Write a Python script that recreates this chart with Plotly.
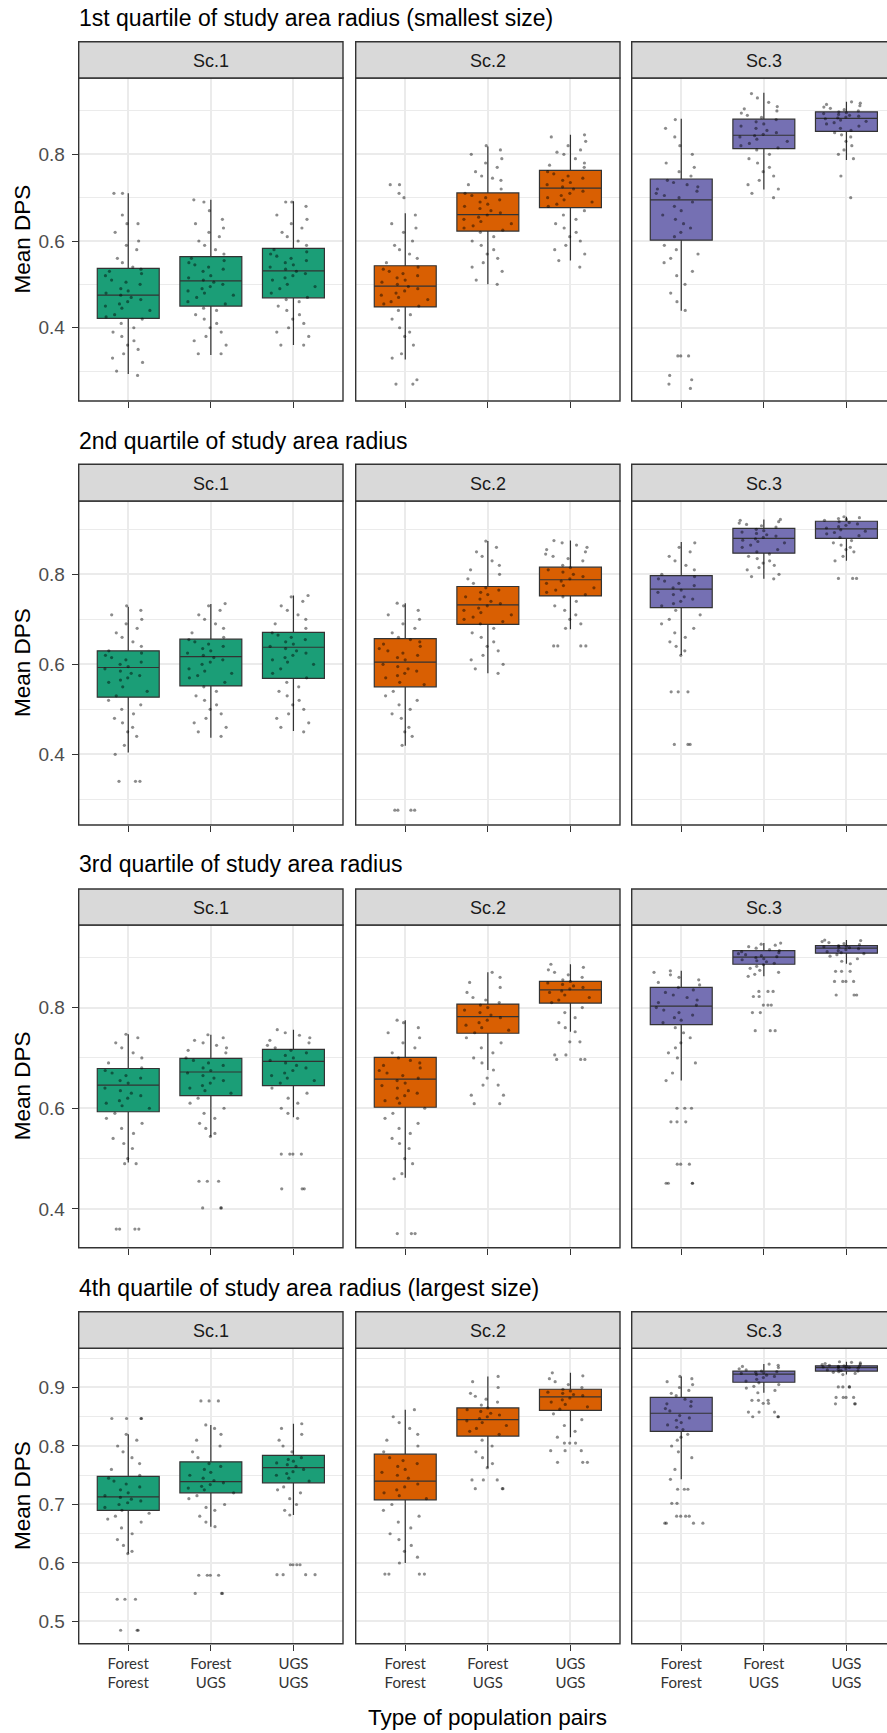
import plotly.graph_objects as go

W, H = 887, 1733

ROW_TITLES = ["1st quartile of study area radius (smallest size)",
              "2nd quartile of study area radius",
              "3rd quartile of study area radius",
              "4th quartile of study area radius (largest size)"]
SCENARIOS = ["Sc.1", "Sc.2", "Sc.3"]
PAIRS = ["Forest<br>Forest", "Forest<br>UGS", "UGS<br>UGS"]
Y_LABEL = "Mean DPS"
X_LABEL = "Type of population pairs"
COLORS = ["#1B9E77", "#D95F02", "#7570B3"]

# Box statistics, order: Sc.1 (FF, FU, UU), Sc.2 (FF, FU, UU), Sc.3 (FF, FU, UU)
low_r1 = [0.293, 0.337, 0.360, 0.327, 0.500, 0.555, 0.439, 0.719, 0.787]
q1_r1 = [0.4215, 0.450, 0.469, 0.448, 0.623, 0.677, 0.602, 0.813, 0.853]
med_r1 = [0.475, 0.508, 0.531, 0.496, 0.661, 0.722, 0.695, 0.844, 0.883]
q3_r1 = [0.537, 0.564, 0.583, 0.543, 0.711, 0.763, 0.743, 0.881, 0.898]
high_r1 = [0.710, 0.695, 0.692, 0.664, 0.818, 0.845, 0.882, 0.942, 0.921]

low_r2 = [0.404, 0.437, 0.452, 0.419, 0.580, 0.678, 0.621, 0.790, 0.830]
q1_r2 = [0.527, 0.552, 0.569, 0.550, 0.689, 0.752, 0.726, 0.847, 0.880]
med_r2 = [0.593, 0.617, 0.638, 0.605, 0.732, 0.788, 0.767, 0.880, 0.901]
q3_r2 = [0.630, 0.656, 0.671, 0.657, 0.773, 0.816, 0.797, 0.902, 0.918]
high_r2 = [0.728, 0.734, 0.753, 0.736, 0.874, 0.875, 0.872, 0.922, 0.928]

low_r3 = [0.492, 0.544, 0.582, 0.462, 0.676, 0.752, 0.655, 0.862, 0.887]
q1_r3 = [0.593, 0.625, 0.645, 0.602, 0.749, 0.809, 0.766, 0.886, 0.908]
med_r3 = [0.646, 0.672, 0.693, 0.658, 0.782, 0.835, 0.803, 0.900, 0.918]
q3_r3 = [0.679, 0.699, 0.717, 0.701, 0.807, 0.852, 0.840, 0.913, 0.923]
high_r3 = [0.747, 0.746, 0.756, 0.775, 0.870, 0.886, 0.873, 0.928, 0.934]

low_r4 = [0.616, 0.662, 0.682, 0.600, 0.763, 0.815, 0.743, 0.891, 0.922]
q1_r4 = [0.690, 0.720, 0.737, 0.708, 0.817, 0.861, 0.825, 0.909, 0.928]
med_r4 = [0.713, 0.739, 0.763, 0.740, 0.845, 0.884, 0.856, 0.923, 0.934]
q3_r4 = [0.748, 0.773, 0.784, 0.786, 0.865, 0.897, 0.883, 0.928, 0.937]
high_r4 = [0.820, 0.836, 0.838, 0.862, 0.919, 0.925, 0.919, 0.940, 0.944]

# Individual Mean DPS values (jittered points)
p_r1_s1_ff = [0.29, 0.30, 0.32, 0.33, 0.34, 0.35, 0.36, 0.37, 0.38, 0.39, 0.40, 0.41, 0.42,
              0.425, 0.43, 0.44, 0.445, 0.45, 0.455, 0.46, 0.465, 0.47, 0.475,
              0.48, 0.485, 0.49, 0.50, 0.505, 0.51, 0.52, 0.525, 0.53, 0.535,
              0.54, 0.55, 0.56, 0.58, 0.59, 0.60, 0.62, 0.64, 0.64, 0.66, 0.71, 0.71]
p_r1_s1_fu = [0.34, 0.34, 0.36, 0.37, 0.38, 0.39, 0.40, 0.41, 0.42, 0.43, 0.44, 0.445,
              0.455, 0.46, 0.47, 0.475, 0.48, 0.485, 0.49, 0.495, 0.50, 0.505,
              0.51, 0.515, 0.52, 0.53, 0.535, 0.54, 0.545, 0.55, 0.555, 0.56,
              0.57, 0.58, 0.59, 0.60, 0.61, 0.62, 0.63, 0.64, 0.65, 0.67, 0.69, 0.695]
p_r1_s1_uu = [0.36, 0.36, 0.38, 0.39, 0.40, 0.41, 0.42, 0.43, 0.44, 0.45, 0.46, 0.465,
              0.47, 0.48, 0.49, 0.495, 0.50, 0.51, 0.515, 0.52, 0.525, 0.53,
              0.535, 0.54, 0.545, 0.55, 0.555, 0.56, 0.565, 0.57, 0.575, 0.58,
              0.59, 0.60, 0.61, 0.62, 0.63, 0.64, 0.65, 0.66, 0.68, 0.69, 0.69]
p_r1_s2_ff = [0.27, 0.27, 0.28, 0.33, 0.34, 0.36, 0.38, 0.39, 0.40, 0.42, 0.43, 0.44,
              0.45, 0.455, 0.46, 0.465, 0.47, 0.475, 0.48, 0.485, 0.49, 0.495,
              0.50, 0.505, 0.51, 0.515, 0.52, 0.525, 0.53, 0.535, 0.54,
              0.55, 0.56, 0.57, 0.58, 0.59, 0.60, 0.62, 0.63, 0.64, 0.66, 0.70, 0.71, 0.73, 0.73]
p_r1_s2_fu = [0.50, 0.51, 0.53, 0.54, 0.55, 0.56, 0.57, 0.58, 0.59, 0.60, 0.61, 0.62,
              0.625, 0.63, 0.635, 0.64, 0.645, 0.65, 0.655, 0.66,
              0.665, 0.67, 0.675, 0.68, 0.685, 0.69, 0.695, 0.70, 0.705, 0.71,
              0.72, 0.73, 0.74, 0.745, 0.75, 0.76, 0.77, 0.78, 0.79, 0.80, 0.81, 0.82]
p_r1_s2_uu = [0.54, 0.555, 0.57, 0.58, 0.59, 0.60, 0.61, 0.62, 0.63, 0.64, 0.65, 0.66, 0.67,
              0.68, 0.685, 0.69, 0.695, 0.70, 0.705, 0.71, 0.715, 0.72,
              0.725, 0.73, 0.735, 0.74, 0.745, 0.75, 0.755, 0.76,
              0.77, 0.775, 0.78, 0.79, 0.80, 0.805, 0.81, 0.82, 0.83, 0.84, 0.845]
p_r1_s3_ff = [0.26, 0.27, 0.28, 0.29, 0.335, 0.335, 0.335, 0.44, 0.46, 0.48, 0.50, 0.52, 0.53,
              0.55, 0.56, 0.57, 0.58, 0.59,
              0.61, 0.62, 0.63, 0.64, 0.65, 0.66, 0.67, 0.68, 0.69,
              0.70, 0.705, 0.71, 0.715, 0.72, 0.725, 0.73, 0.735, 0.74,
              0.75, 0.76, 0.77, 0.78, 0.80, 0.82, 0.84, 0.86, 0.88]
p_r1_s3_fu = [0.70, 0.71, 0.72, 0.73, 0.74, 0.75, 0.76, 0.77, 0.78, 0.79, 0.80, 0.81,
              0.815, 0.82, 0.825, 0.83, 0.835, 0.84, 0.843,
              0.846, 0.85, 0.855, 0.86, 0.865, 0.87, 0.875, 0.88,
              0.885, 0.89, 0.895, 0.90, 0.905, 0.91, 0.92, 0.93, 0.94]
p_r1_s3_uu = [0.70, 0.75, 0.79, 0.80, 0.81, 0.82, 0.83, 0.84, 0.845, 0.85,
              0.855, 0.86, 0.865, 0.87, 0.873, 0.876, 0.879, 0.882,
              0.884, 0.886, 0.888, 0.89, 0.892, 0.894, 0.896, 0.898,
              0.90, 0.903, 0.906, 0.909, 0.912, 0.915, 0.918, 0.921]

p_r2_s1_ff = [0.34, 0.34, 0.34, 0.40, 0.42, 0.44, 0.45, 0.46, 0.47, 0.48, 0.49, 0.50, 0.51, 0.52,
              0.53, 0.54, 0.55, 0.56, 0.565, 0.57, 0.575, 0.58, 0.585, 0.59,
              0.595, 0.60, 0.605, 0.61, 0.615, 0.62, 0.625, 0.63,
              0.64, 0.65, 0.66, 0.67, 0.68, 0.69, 0.70, 0.71, 0.72, 0.73]
p_r2_s1_fu = [0.44, 0.45, 0.46, 0.47, 0.48, 0.49, 0.50, 0.51, 0.52, 0.53, 0.54, 0.55,
              0.56, 0.57, 0.575, 0.58, 0.585, 0.59, 0.60, 0.605, 0.61, 0.615,
              0.62, 0.625, 0.63, 0.635, 0.64, 0.645, 0.65, 0.655,
              0.66, 0.67, 0.68, 0.69, 0.70, 0.71, 0.72, 0.73, 0.735]
p_r2_s1_uu = [0.45, 0.46, 0.47, 0.48, 0.49, 0.50, 0.51, 0.52, 0.53, 0.54, 0.55, 0.56,
              0.57, 0.58, 0.59, 0.60, 0.605, 0.61, 0.615, 0.62, 0.625, 0.63, 0.635,
              0.64, 0.645, 0.65, 0.655, 0.66, 0.665, 0.67,
              0.68, 0.69, 0.70, 0.71, 0.72, 0.73, 0.74, 0.75, 0.753]
p_r2_s2_ff = [0.276, 0.276, 0.276, 0.276, 0.42, 0.44, 0.45, 0.46, 0.48, 0.49, 0.50, 0.51, 0.52, 0.53, 0.54,
              0.555, 0.56, 0.57, 0.575, 0.58, 0.585, 0.59, 0.595, 0.60,
              0.61, 0.615, 0.62, 0.625, 0.63, 0.635, 0.64, 0.645, 0.65, 0.655,
              0.66, 0.67, 0.68, 0.69, 0.70, 0.71, 0.72, 0.73, 0.736]
p_r2_s2_fu = [0.58, 0.59, 0.60, 0.61, 0.62, 0.63, 0.64, 0.65, 0.66, 0.67, 0.68,
              0.69, 0.695, 0.70, 0.705, 0.71, 0.715, 0.72, 0.725, 0.73,
              0.735, 0.74, 0.745, 0.75, 0.755, 0.76, 0.765, 0.77,
              0.78, 0.79, 0.80, 0.81, 0.82, 0.83, 0.84, 0.85, 0.86, 0.874]
p_r2_s2_uu = [0.641, 0.641, 0.641, 0.641, 0.68, 0.69, 0.70, 0.71, 0.72, 0.73, 0.74, 0.75,
              0.755, 0.76, 0.765, 0.77, 0.775, 0.78, 0.785,
              0.79, 0.795, 0.80, 0.805, 0.81, 0.815,
              0.82, 0.83, 0.835, 0.84, 0.845, 0.85, 0.855, 0.86, 0.865, 0.87, 0.875]
p_r2_s3_ff = [0.422, 0.422, 0.422, 0.539, 0.539, 0.539, 0.62, 0.63, 0.64, 0.65, 0.66, 0.67, 0.68,
              0.69, 0.70, 0.71, 0.72,
              0.73, 0.735, 0.74, 0.745, 0.75, 0.755, 0.76, 0.765,
              0.77, 0.775, 0.78, 0.785, 0.79, 0.795,
              0.80, 0.81, 0.82, 0.83, 0.84, 0.85, 0.86, 0.87]
p_r2_s3_fu = [0.79, 0.795, 0.80, 0.81, 0.815, 0.82, 0.825, 0.83, 0.835, 0.84, 0.845,
              0.85, 0.855, 0.86, 0.865, 0.87, 0.873, 0.876, 0.879,
              0.882, 0.885, 0.888, 0.891, 0.894, 0.897, 0.90,
              0.905, 0.908, 0.911, 0.914, 0.917, 0.92, 0.922]
p_r2_s3_uu = [0.791, 0.791, 0.791, 0.83, 0.84, 0.85, 0.855, 0.86, 0.865, 0.87, 0.875,
              0.882, 0.886, 0.89, 0.893, 0.896, 0.899,
              0.903, 0.906, 0.909, 0.912, 0.915, 0.917,
              0.92, 0.922, 0.924, 0.926, 0.928]

p_r3_s1_ff = [0.36, 0.36, 0.36, 0.36, 0.49, 0.49, 0.50, 0.52, 0.53, 0.54, 0.55, 0.56, 0.57, 0.58, 0.59,
              0.60, 0.605, 0.61, 0.615, 0.62, 0.625, 0.63, 0.635, 0.64,
              0.65, 0.655, 0.66, 0.665, 0.67, 0.675,
              0.68, 0.69, 0.70, 0.71, 0.72, 0.73, 0.74, 0.747]
p_r3_s1_fu = [0.402, 0.402, 0.402, 0.455, 0.455, 0.455, 0.544, 0.55, 0.56, 0.57, 0.58, 0.59, 0.60,
              0.61, 0.62,
              0.63, 0.635, 0.64, 0.645, 0.65, 0.655, 0.66, 0.665, 0.67,
              0.675, 0.68, 0.685, 0.69, 0.695,
              0.70, 0.71, 0.715, 0.72, 0.725, 0.73, 0.735, 0.74, 0.746]
p_r3_s1_uu = [0.44, 0.44, 0.44, 0.509, 0.509, 0.509, 0.509, 0.58, 0.59, 0.60, 0.61, 0.62, 0.63, 0.64,
              0.65, 0.655, 0.66, 0.665, 0.67, 0.675, 0.68, 0.685, 0.69,
              0.695, 0.70, 0.705, 0.71, 0.715,
              0.72, 0.725, 0.73, 0.735, 0.74, 0.745, 0.75, 0.756]
p_r3_s2_ff = [0.351, 0.351, 0.351, 0.46, 0.47, 0.49, 0.50, 0.52, 0.53, 0.54, 0.55, 0.56, 0.57,
              0.58, 0.59, 0.60,
              0.61, 0.615, 0.62, 0.625, 0.63, 0.635, 0.64, 0.645, 0.65, 0.655,
              0.66, 0.665, 0.67, 0.675, 0.68, 0.685, 0.69, 0.695, 0.70,
              0.71, 0.72, 0.73, 0.74, 0.75, 0.76, 0.77, 0.775]
p_r3_s2_fu = [0.609, 0.609, 0.626, 0.626, 0.646, 0.646, 0.66, 0.676, 0.69, 0.70, 0.71, 0.72, 0.73, 0.74,
              0.75, 0.755, 0.76, 0.765, 0.77, 0.775, 0.78,
              0.785, 0.79, 0.795, 0.80, 0.805,
              0.81, 0.815, 0.82, 0.83, 0.84, 0.85, 0.86, 0.87]
p_r3_s2_uu = [0.697, 0.697, 0.697, 0.706, 0.706, 0.732, 0.732, 0.752, 0.76, 0.77, 0.78, 0.79, 0.80,
              0.81, 0.815, 0.82, 0.825, 0.83, 0.833,
              0.837, 0.84, 0.843, 0.846, 0.849, 0.852,
              0.855, 0.86, 0.865, 0.87, 0.875, 0.88, 0.886]
p_r3_s3_ff = [0.451, 0.451, 0.451, 0.451, 0.489, 0.489, 0.489, 0.573, 0.573, 0.573, 0.60, 0.60, 0.60,
              0.655, 0.67, 0.69, 0.70, 0.71, 0.72, 0.73, 0.74, 0.75, 0.76,
              0.77, 0.775, 0.78, 0.785, 0.79, 0.795, 0.80,
              0.805, 0.81, 0.815, 0.82, 0.825, 0.83, 0.835, 0.84,
              0.845, 0.85, 0.855, 0.86, 0.865, 0.87, 0.873]
p_r3_s3_fu = [0.754, 0.754, 0.754, 0.79, 0.79, 0.805, 0.805, 0.805, 0.822, 0.822, 0.832, 0.832, 0.832,
              0.862, 0.866, 0.87, 0.874, 0.878, 0.882, 0.885,
              0.888, 0.891, 0.893, 0.895, 0.897, 0.899,
              0.901, 0.903, 0.905, 0.907, 0.909, 0.911, 0.913,
              0.915, 0.918, 0.921, 0.924, 0.926, 0.928]
p_r3_s3_uu = [0.825, 0.825, 0.825, 0.852, 0.852, 0.852, 0.852, 0.872, 0.872, 0.872,
              0.887, 0.892, 0.897, 0.902, 0.905, 0.907,
              0.909, 0.911, 0.913, 0.915, 0.917,
              0.919, 0.92, 0.921, 0.922, 0.923,
              0.925, 0.927, 0.929, 0.931, 0.933, 0.934]

p_r4_s1_ff = [0.485, 0.485, 0.485, 0.538, 0.538, 0.538, 0.616, 0.62, 0.63, 0.64, 0.65, 0.66, 0.67,
              0.675, 0.68, 0.685,
              0.69, 0.695, 0.70, 0.703, 0.706, 0.709, 0.712,
              0.715, 0.72, 0.725, 0.73, 0.735, 0.74, 0.745,
              0.75, 0.76, 0.77, 0.78, 0.79, 0.80, 0.81, 0.82, 0.847, 0.847, 0.847, 0.847]
p_r4_s1_fu = [0.548, 0.548, 0.548, 0.579, 0.579, 0.579, 0.579, 0.662, 0.67, 0.68, 0.69, 0.695,
              0.70, 0.71, 0.715,
              0.72, 0.725, 0.728, 0.731, 0.734, 0.737,
              0.741, 0.745, 0.75, 0.755, 0.76, 0.765, 0.77,
              0.78, 0.79, 0.80, 0.81, 0.82, 0.83, 0.836, 0.877, 0.877, 0.877]
p_r4_s1_uu = [0.58, 0.58, 0.58, 0.58, 0.597, 0.597, 0.597, 0.597, 0.682, 0.69, 0.70, 0.71, 0.72,
              0.725, 0.73,
              0.74, 0.745, 0.75, 0.753, 0.756, 0.76,
              0.765, 0.768, 0.771, 0.774, 0.777, 0.78,
              0.79, 0.80, 0.81, 0.82, 0.83, 0.838]
p_r4_s2_ff = [0.581, 0.581, 0.581, 0.581, 0.60, 0.61, 0.62, 0.63, 0.64, 0.65, 0.66, 0.67, 0.68,
              0.69, 0.70,
              0.71, 0.715, 0.72, 0.725, 0.73, 0.735,
              0.745, 0.75, 0.755, 0.76, 0.765, 0.77, 0.775, 0.78,
              0.79, 0.80, 0.81, 0.82, 0.83, 0.84, 0.85, 0.862]
p_r4_s2_fu = [0.727, 0.727, 0.727, 0.742, 0.742, 0.742, 0.763, 0.77, 0.78, 0.79, 0.80, 0.81,
              0.82, 0.825, 0.83, 0.835, 0.84, 0.843,
              0.847, 0.85, 0.853, 0.856, 0.859, 0.862, 0.865,
              0.87, 0.875, 0.88, 0.885, 0.89, 0.90, 0.91, 0.919]
p_r4_s2_uu = [0.772, 0.772, 0.772, 0.792, 0.792, 0.792, 0.805, 0.805, 0.805, 0.815, 0.825, 0.835,
              0.845, 0.855,
              0.863, 0.867, 0.871, 0.875, 0.879, 0.882,
              0.886, 0.888, 0.89, 0.892, 0.894, 0.897,
              0.90, 0.905, 0.91, 0.915, 0.92, 0.925]
p_r4_s3_ff = [0.668, 0.668, 0.668, 0.668, 0.68, 0.68, 0.68, 0.68, 0.702, 0.702, 0.726, 0.726, 0.726,
              0.743, 0.76, 0.78, 0.79, 0.80, 0.81, 0.815, 0.82,
              0.828, 0.832, 0.836, 0.84, 0.844, 0.848, 0.852,
              0.86, 0.864, 0.868, 0.872, 0.876, 0.88,
              0.886, 0.89, 0.895, 0.90, 0.905, 0.91, 0.915, 0.919]
p_r4_s3_fu = [0.85, 0.85, 0.85, 0.858, 0.858, 0.858, 0.873, 0.873, 0.878, 0.878, 0.878,
              0.891, 0.895, 0.899, 0.902, 0.905, 0.908,
              0.911, 0.914, 0.917, 0.919, 0.921, 0.922,
              0.924, 0.925, 0.926, 0.927, 0.928,
              0.93, 0.932, 0.934, 0.936, 0.938, 0.94]
p_r4_s3_uu = [0.872, 0.872, 0.872, 0.883, 0.883, 0.883, 0.883, 0.901, 0.901, 0.901, 0.901,
              0.922, 0.924, 0.926, 0.927, 0.928, 0.929, 0.93, 0.931, 0.932, 0.933,
              0.934, 0.935, 0.935, 0.936, 0.936, 0.937, 0.937,
              0.938, 0.939, 0.94, 0.941, 0.942, 0.943, 0.944]

STATS = [
    (low_r1, q1_r1, med_r1, q3_r1, high_r1),
    (low_r2, q1_r2, med_r2, q3_r2, high_r2),
    (low_r3, q1_r3, med_r3, q3_r3, high_r3),
    (low_r4, q1_r4, med_r4, q3_r4, high_r4),
]
POINTS = [
    [p_r1_s1_ff, p_r1_s1_fu, p_r1_s1_uu, p_r1_s2_ff, p_r1_s2_fu, p_r1_s2_uu, p_r1_s3_ff, p_r1_s3_fu, p_r1_s3_uu],
    [p_r2_s1_ff, p_r2_s1_fu, p_r2_s1_uu, p_r2_s2_ff, p_r2_s2_fu, p_r2_s2_uu, p_r2_s3_ff, p_r2_s3_fu, p_r2_s3_uu],
    [p_r3_s1_ff, p_r3_s1_fu, p_r3_s1_uu, p_r3_s2_ff, p_r3_s2_fu, p_r3_s2_uu, p_r3_s3_ff, p_r3_s3_fu, p_r3_s3_uu],
    [p_r4_s1_ff, p_r4_s1_fu, p_r4_s1_uu, p_r4_s2_ff, p_r4_s2_fu, p_r4_s2_uu, p_r4_s3_ff, p_r4_s3_fu, p_r4_s3_uu],
]

Y_RANGES = [(0.231, 0.976), (0.243, 0.963), (0.323, 0.964), (0.462, 0.967)]
Y_TICKS = [[0.4, 0.6, 0.8], [0.4, 0.6, 0.8], [0.4, 0.6, 0.8], [0.5, 0.6, 0.7, 0.8, 0.9]]
Y_MINOR = [[0.3, 0.5, 0.7, 0.9], [0.3, 0.5, 0.7, 0.9], [0.5, 0.7, 0.9],
           [0.55, 0.65, 0.75, 0.85, 0.95]]

# ---------------- layout geometry (pixels) ----------------
COL_PX = [(78.7, 343.0), (355.7, 620.0), (631.7, 896.0)]
ROW_PX = [(78.0, 401.0), (501.0, 825.0), (925.0, 1247.7), (1348.3, 1643.7)]
STRIP_TOP = [41.7, 464.3, 889.0, 1311.7]
TITLE_Y = [18.0, 441.0, 864.3, 1287.7]


def px_x(p):
    return p / W


def px_y(p):
    return 1 - p / H


FONT = "Liberation Sans, Arial, Helvetica, sans-serif"
BORDER = "#333333"
GRID = "#EBEBEB"

fig = go.Figure()
layout = dict(
    width=W, height=H, margin=dict(l=0, r=0, t=0, b=0),
    paper_bgcolor="white", plot_bgcolor="white", showlegend=False,
    boxmode="overlay", font=dict(family=FONT, color="black"),
)
shapes = []
annotations = []

for r in range(4):
    lo, hi = Y_RANGES[r]
    for c in range(3):
        idx = r * 3 + c + 1
        sfx = "" if idx == 1 else str(idx)
        xa = "x" + sfx
        ya = "y" + sfx
        x0p, x1p = COL_PX[c]
        vis_x1 = min(x1p, W)
        full_w = x1p - x0p
        xr_hi = 0.4 + 3.2 * (vis_x1 - x0p) / full_w
        y0p, y1p = ROW_PX[r]

        layout["xaxis" + sfx] = dict(
            domain=[px_x(x0p), px_x(vis_x1)], anchor=ya, range=[0.4, xr_hi],
            type="linear", tickmode="array", tickvals=[1, 2, 3],
            ticktext=PAIRS, showticklabels=(r == 3),
            tickfont=dict(family="Lato, Liberation Sans, sans-serif", size=15, color="#333333"),
            ticks="outside", ticklen=6, tickwidth=1.3, tickcolor=BORDER,
            showgrid=True, gridcolor=GRID, gridwidth=2, zeroline=False,
            showline=False, fixedrange=True,
        )
        yax = dict(
            domain=[px_y(y1p), px_y(y0p)], anchor=xa, range=[lo, hi],
            tickmode="array", tickvals=Y_TICKS[r],
            ticktext=[f"{v:.1f}" for v in Y_TICKS[r]],
            showticklabels=(c == 0),
            tickfont=dict(family=FONT, size=19, color="#4D4D4D"),
            ticks="outside" if c == 0 else "", ticklen=6, tickwidth=1.3, tickcolor=BORDER,
            ticklabelstandoff=3,
            showgrid=True, gridcolor=GRID, gridwidth=2, zeroline=False,
            minor=dict(tickvals=Y_MINOR[r], showgrid=True, gridcolor=GRID, gridwidth=1.1, ticks=""),
            showline=False, fixedrange=True,
        )
        if c > 0:
            yax["matches"] = "y" + ("" if r == 0 else str(r * 3 + 1))
        layout["yaxis" + sfx] = yax

        lows, q1s, meds, q3s, highs = STATS[r]
        for k in range(3):
            j = c * 3 + k
            fig.add_trace(go.Box(
                x=[k + 1], q1=[q1s[j]], median=[meds[j]], q3=[q3s[j]],
                lowerfence=[lows[j]], upperfence=[highs[j]],
                width=0.75, whiskerwidth=0, boxpoints=False,
                fillcolor=COLORS[c], line=dict(color=BORDER, width=1.2),
                xaxis=xa, yaxis=ya, hoverinfo="skip",
            ))
        for k in range(3):
            j = c * 3 + k
            vals = POINTS[r][j]
            fig.add_trace(go.Box(
                x=[k + 1] * len(vals), y=vals, width=0.75,
                boxpoints="all", jitter=0.9, pointpos=0,
                fillcolor="rgba(0,0,0,0)", line=dict(color="rgba(0,0,0,0)", width=0),
                marker=dict(size=3.2, color="rgba(0,0,0,0.45)"),
                xaxis=xa, yaxis=ya, hoverinfo="y",
            ))

        # panel border
        shapes.append(dict(type="rect", xref="paper", yref="paper",
                           x0=px_x(x0p), x1=px_x(x1p), y0=px_y(y1p), y1=px_y(y0p),
                           line=dict(color=BORDER, width=1.4), fillcolor="rgba(0,0,0,0)",
                           layer="above"))
        # strip
        shapes.append(dict(type="rect", xref="paper", yref="paper",
                           x0=px_x(x0p), x1=px_x(x1p), y0=px_y(y0p), y1=px_y(STRIP_TOP[r]),
                           line=dict(color=BORDER, width=1.4), fillcolor="#D9D9D9",
                           layer="above"))
        annotations.append(dict(
            text=SCENARIOS[c], xref="paper", yref="paper",
            x=px_x((x0p + x1p) / 2), y=px_y((STRIP_TOP[r] + y0p) / 2 + 1),
            xanchor="center", yanchor="middle", showarrow=False,
            font=dict(family=FONT, size=18, color="#1A1A1A"),
        ))

    # row title
    annotations.append(dict(
        text=ROW_TITLES[r], xref="paper", yref="paper",
        x=px_x(77.0), y=px_y(TITLE_Y[r]), xanchor="left", yanchor="middle",
        showarrow=False, font=dict(family=FONT, size=23, color="black"),
    ))
    # y axis title
    annotations.append(dict(
        text=Y_LABEL, xref="paper", yref="paper", textangle=-90,
        x=px_x(22.0), y=px_y((ROW_PX[r][0] + ROW_PX[r][1]) / 2),
        xanchor="center", yanchor="middle", showarrow=False,
        font=dict(family=FONT, size=22.5, color="black"),
    ))

annotations.append(dict(
    text=X_LABEL, xref="paper", yref="paper",
    x=px_x((COL_PX[0][0] + COL_PX[2][1]) / 2), y=px_y(1717.5),
    xanchor="center", yanchor="middle", showarrow=False,
    font=dict(family=FONT, size=22.5, color="black"),
))

layout["shapes"] = shapes
layout["annotations"] = annotations
fig.update_layout(**layout)
fig.write_html("out.html")
